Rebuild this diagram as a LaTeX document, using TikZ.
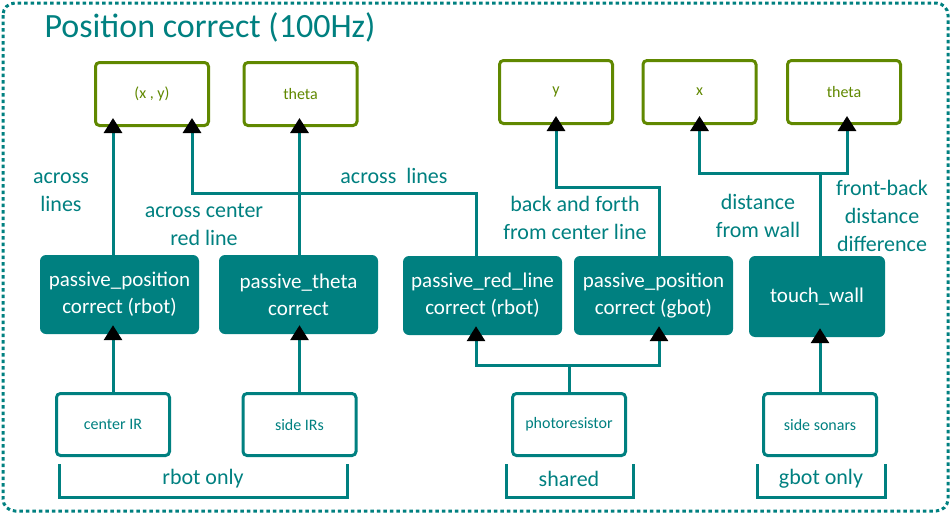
\documentclass[tikz,border=0pt]{standalone}
\usepackage{fontspec}
\setmainfont{Carlito}
\usepackage{tikz}
\usetikzlibrary{arrows.meta,positioning,calc}
\definecolor{tealc}{RGB}{0,128,128}
\definecolor{leaf}{RGB}{96,136,0}
\tikzset{
  outbox/.style={draw=leaf,line width=3pt,rounded corners=4pt,minimum width=113pt,minimum height=63pt,text=leaf,font=\fontsize{16}{19}\selectfont},
  algbox/.style={fill=tealc,rounded corners=6pt,minimum width=159pt,minimum height=79pt,text=white,align=center,font=\fontsize{21}{27}\selectfont},
  sensbox/.style={draw=tealc,line width=3pt,rounded corners=4pt,minimum width=113pt,minimum height=62pt,text=tealc,font=\fontsize{16}{19}\selectfont},
  link/.style={draw=tealc,line width=3pt},
  note/.style={text=tealc,align=center,font=\fontsize{22}{28}\selectfont}
}
\tikzstyle{uparrow} = [link,-{Triangle[width=18pt,length=15pt,color=black]},shorten >=-9pt]

\begin{document}
\begin{tikzpicture}[x=1pt,y=-1pt]
\useasboundingbox (0,0) rectangle (951,514);
\draw[tealc,line width=3pt,dash pattern=on 3.5pt off 3pt,rounded corners=12pt] (3,3) rectangle (948,511);
\node[note,font=\fontsize{34}{40}\selectfont,anchor=base west] (title) at (41,37) {Position correct (100Hz)};
% outputs
\node[outbox] (xy) at (152,94) {(x , y)}; \node[outbox] (thA) at (300.5,94) {theta};
\node[outbox] (yo) at (556,92) {y}; \node[outbox] (xo) at (699.5,92) {x}; \node[outbox] (thB) at (844,92) {theta};
% correction steps
\node[algbox] (pprb) at (119.5,294.5) {passive\_position\\correct (rbot)};
\node[algbox] (pth) at (298.5,294.5) {passive\_theta\\correct};
\node[algbox] (prl) at (482.5,295.5) {passive\_red\_line\\correct (rbot)};
\node[algbox] (ppgb) at (653.5,295.5) {passive\_position\\correct (gbot)};
\node[algbox,minimum width=136pt,minimum height=81pt] (tw) at (817,296.5) {touch\_wall};
% sensors
\node[sensbox] (cir) at (113,424.5) {center IR}; \node[sensbox] (sir) at (299.5,424.5) {side IRs};
\node[sensbox] (phr) at (569,424.5) {photoresistor}; \node[sensbox] (son) at (820,424.5) {side sonars};
\coordinate (rl) at (476,0); \coordinate (gb) at (659,0);
% sensors to steps
\draw[uparrow] (cir.north) -- (cir.north |- pprb.south);
\draw[uparrow] (sir.north) -- (sir.north |- pth.south);
\draw[link] (phr.north) -- ++(0,-27) coordinate (split);
\draw[uparrow] (split) -| (rl |- prl.south);
\draw[uparrow] (split) -| (gb |- ppgb.south);
\draw[uparrow] (son.north) -- (son.north |- tw.south);
% steps to outputs
\draw[uparrow] (cir.north |- pprb.north) -- (cir.north |- xy.south);
\draw[uparrow] (sir.north |- pth.north) -- (sir.north |- thA.south);
\draw[uparrow] (rl |- prl.north) -- (rl |- 0,193) -| ([xshift=40pt]xy.south);
\draw[uparrow] (gb |- ppgb.north) -- (gb |- 0,187) -| (yo.south);
\draw[link] (son.north |- tw.north) -- (son.north |- 0,173) coordinate (wsplit);
\draw[uparrow] (wsplit) -| (xo.south);
\draw[uparrow] (wsplit) -| ([xshift=3pt]thB.south);
% labels
\node[note] (l1) at (61,192) {across\\lines};
\node[note] (l2) at (204,225) {across center\\red line};
\node[note] (l3) at (394,176) {across\ \ lines};
\node[note] (l4) at (575,218) {back and forth\\from center line};
\node[note] (l5) at (758,216) {distance\\from wall};
\node[note] (l6) at (882,216) {front-back\\distance\\difference};
% groups
\draw[link] (59,464) |- (347,497) -- (347,464); \node[note] (b1) at (203,479) {rbot only};
\draw[link] (506,464) |- (633,497) -- (633,464); \node[note] (b2) at (569,479) {shared};
\draw[link] (757,464) |- (885,497) -- (885,464); \node[note] (b3) at (821,479) {gbot only};
\end{tikzpicture}
\end{document}
